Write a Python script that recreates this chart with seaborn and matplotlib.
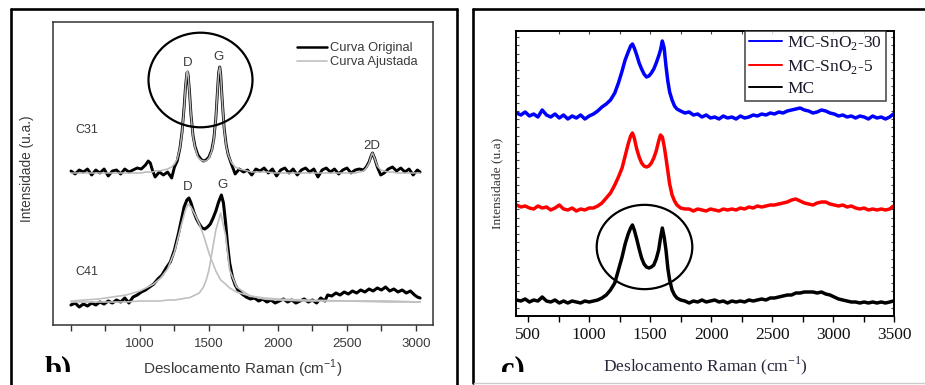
import numpy as np
import pandas as pd
import matplotlib
matplotlib.use("Agg")
import matplotlib.pyplot as plt
import seaborn as sns
from matplotlib.patches import Ellipse
from matplotlib.lines import Line2D
from matplotlib.ticker import MultipleLocator
from matplotlib.transforms import Bbox, TransformedBbox

# ---------------- data: panel b) ----------------
c31_x = [500, 530, 560, 590, 620, 650, 680, 710, 740, 770,
         800, 830, 860, 890, 920, 950, 980, 1010, 1040, 1060,
         1075, 1090, 1110, 1140, 1170, 1200, 1230, 1250, 1270, 1290,
         1305, 1320, 1330, 1340, 1345, 1350, 1360, 1370, 1385, 1400,
         1420, 1440, 1460, 1480, 1500, 1520, 1535, 1550, 1560, 1570,
         1578, 1585, 1595, 1610, 1625, 1640, 1660, 1690, 1720, 1750,
         1780, 1810, 1840, 1870, 1900, 1930, 1960, 1990, 2020, 2050,
         2080, 2110, 2140, 2170, 2200, 2230, 2260, 2290, 2320, 2350,
         2380, 2410, 2440, 2470, 2500, 2530, 2560, 2590, 2620, 2640,
         2660, 2675, 2685, 2700, 2720, 2745, 2770, 2800, 2830, 2860,
         2890, 2920, 2950, 2980, 3010, 3030]
c31_y = [154, 151, 155, 153, 156, 150, 155, 152, 156, 149,
         154, 155, 151, 156, 153, 155, 157, 156, 160, 164,
         162, 155, 148, 153, 150, 153, 147, 158, 164, 177,
         193, 218, 238, 252, 253, 249, 231, 210, 189, 178,
         170, 166, 164, 165, 168, 175, 186, 207, 230, 252,
         258, 251, 227, 197, 180, 170, 162, 151, 156, 153,
         155, 150, 156, 154, 157, 152, 156, 149, 155, 157,
         152, 156, 150, 155, 157, 153, 156, 148, 155, 157,
         153, 156, 151, 155, 157, 152, 155, 156, 155, 158,
         163, 169, 172, 167, 158, 150, 152, 156, 158, 154,
         157, 153, 156, 150, 155, 153]
c31_fit = [152, 152, 152, 152, 152, 152, 152, 152, 152, 152,
           152, 152, 152, 152, 152, 152, 152, 152, 153, 153,
           153, 153, 154, 154, 155, 156, 158, 161, 166, 177,
           192, 217, 238, 253, 254, 249, 230, 210, 188, 177,
           168, 165, 164, 164, 167, 174, 185, 207, 230, 252,
           258, 250, 227, 196, 179, 170, 163, 158, 156, 155,
           154, 153, 153, 153, 153, 153, 152, 152, 152, 152,
           152, 152, 152, 152, 152, 152, 152, 152, 152, 152,
           152, 152, 152, 152, 152, 152, 152, 153, 154, 157,
           162, 169, 172, 167, 159, 155, 154, 153, 153, 152,
           152, 152, 152, 152, 152, 152]

c41_x = [500, 530, 560, 590, 620, 650, 680, 710, 740, 770,
         800, 830, 860, 890, 920, 950, 980, 1010, 1040, 1070,
         1100, 1130, 1160, 1190, 1220, 1250, 1280, 1300, 1320, 1340,
         1355, 1370, 1390, 1410, 1430, 1450, 1470, 1490, 1510, 1530,
         1550, 1570, 1590, 1605, 1620, 1635, 1650, 1670, 1690, 1710,
         1740, 1770, 1800, 1830, 1860, 1890, 1920, 1950, 1980, 2010,
         2040, 2070, 2100, 2130, 2160, 2190, 2220, 2250, 2280, 2310,
         2340, 2360, 2390, 2420, 2450, 2480, 2510, 2540, 2570, 2600,
         2630, 2660, 2690, 2720, 2750, 2780, 2810, 2840, 2870, 2900,
         2930, 2960, 2990, 3010, 3030]
c41_y = [20, 22, 18, 21, 19, 22, 20, 23, 21, 24,
         22, 25, 23, 27, 22, 28, 30, 33, 35, 38,
         41, 46, 50, 57, 63, 75, 92, 105, 118, 125,
         127, 122, 113, 106, 101, 97, 96, 98, 101, 107,
         114, 123, 130, 122, 103, 80, 62, 48, 40, 35,
         31, 28, 26, 27, 24, 26, 23, 25, 22, 24,
         26, 23, 25, 22, 24, 26, 23, 25, 22, 27,
         24, 30, 29, 32, 30, 33, 31, 34, 32, 35,
         33, 36, 34, 37, 35, 38, 34, 36, 33, 35,
         32, 34, 30, 28, 27]

fit_x = [500, 600, 700, 800, 900, 1000, 1100, 1150, 1200, 1250,
         1300, 1330, 1350, 1370, 1400, 1430, 1460, 1480, 1500, 1516,
         1550, 1585, 1620, 1650, 1700, 1800, 1900, 2000, 2200, 2500,
         2800, 3030]
fit_d = [24, 25, 26, 28, 30, 34, 41, 47, 56, 73,
         100, 115, 121, 118, 110, 101, 90, 81, 72, 66,
         54, 45, 41, 37, 33, 29, 27, 26, 25, 24,
         24, 23]
fit_g = [23, 23, 23, 23, 23, 24, 24, 24, 25, 25,
         26, 27, 27, 28, 30, 32, 38, 45, 55, 68,
         95, 112, 90, 55, 38, 29, 26, 25, 24, 24,
         23, 23]

b_ticks = [500, 1000, 1500, 2000, 2500, 3000]
b_ticklabels = ["", "1000", "1500", "2000", "2500", "3000"]
b_legend = ["Curva Original", "Curva Ajustada"]
b_peaks = [("D", 1343, 262), ("G", 1571, 268), ("2D", 2680, 179),
           ("D", 1343, 138), ("G", 1600, 140)]
b_samples = [("C31", 612, 195), ("C41", 612, 53)]

# ---------------- data: panel c) ----------------
c_x = [405, 440, 475, 510, 545, 580, 615, 650, 685, 720,
       755, 790, 825, 860, 895, 930, 965, 1000, 1035, 1070,
       1105, 1140, 1175, 1210, 1240, 1270, 1295, 1320, 1340, 1355,
       1370, 1390, 1410, 1430, 1450, 1470, 1490, 1510, 1530, 1550,
       1570, 1585, 1600, 1615, 1630, 1645, 1660, 1680, 1700, 1720,
       1750, 1785, 1820, 1855, 1890, 1925, 1960, 1995, 2030, 2065,
       2100, 2135, 2170, 2205, 2240, 2275, 2310, 2345, 2380, 2415,
       2450, 2485, 2520, 2555, 2590, 2625, 2660, 2695, 2730, 2765,
       2800, 2835, 2870, 2905, 2940, 2975, 3010, 3045, 3080, 3115,
       3150, 3185, 3220, 3255, 3290, 3325, 3360, 3395, 3430, 3465,
       3495]
sno2_30 = [203, 201, 204, 200, 202, 199, 206, 201, 199, 202,
           198, 201, 197, 200, 198, 201, 197, 200, 202, 205,
           209, 212, 216, 223, 233, 245, 256, 264, 270, 272,
           268, 261, 253, 247, 242, 239, 240, 243, 247, 253,
           260, 266, 275, 268, 250, 235, 224, 216, 210, 207,
           205, 203, 204, 201, 202, 199, 201, 198, 199, 197,
           200, 198, 199, 197, 200, 198, 199, 201, 200, 202,
           201, 203, 202, 204, 203, 205, 206, 207, 208, 206,
           205, 203, 204, 206, 205, 203, 202, 200, 201, 199,
           200, 198, 200, 199, 197, 200, 198, 199, 197, 199,
           202]
sno2_5 = [111, 109, 110, 108, 107, 110, 108, 109, 106, 108,
          111, 107, 106, 108, 105, 107, 106, 108, 108, 110,
          113, 118, 123, 131, 139, 148, 160, 172, 180, 183,
          178, 167, 159, 153, 150, 149, 150, 153, 158, 165,
          175, 181, 179, 170, 158, 145, 132, 121, 115, 111,
          108, 107, 107, 105, 107, 106, 105, 107, 106, 105,
          107, 106, 107, 106, 108, 107, 109, 108, 110, 109,
          110, 111, 111, 112, 113, 114, 116, 117, 115, 113,
          112, 111, 113, 114, 114, 112, 111, 110, 111, 109,
          110, 108, 107, 108, 106, 107, 106, 107, 106, 107,
          110]
mc = [16, 15, 17, 14, 16, 15, 19, 15, 14, 16,
      13, 15, 13, 15, 14, 13, 15, 14, 15, 16,
      18, 21, 26, 33, 46, 59, 72, 82, 88, 91,
      86, 77, 67, 58, 52, 49, 48, 49, 51, 57,
      66, 78, 88, 79, 66, 48, 36, 26, 21, 18,
      16, 15, 13, 15, 14, 16, 14, 15, 16, 14,
      15, 13, 15, 14, 15, 14, 16, 15, 16, 17,
      16, 18, 18, 19, 20, 21, 21, 23, 23, 24,
      24, 24, 23, 24, 22, 21, 19, 17, 16, 15,
      14, 14, 13, 14, 13, 14, 13, 14, 13, 14,
      15]
c_series = ["MC-SnO$_\\mathregular{2}$-30", "MC-SnO$_\\mathregular{2}$-5", "MC"]
c_colors = ["#0000ff", "#ff0000", "#000000"]
c_ticks = [500, 1000, 1500, 2000, 2500, 3000, 3500]

# ---------------- figure ----------------
sns.set_theme(style="white")
plt.rcParams["font.family"] = ["Liberation Sans", "DejaVu Sans"]
plt.rcParams["mathtext.fontset"] = "custom"
plt.rcParams["mathtext.rm"] = "Liberation Serif"

W, H = 925, 385
fig = plt.figure(figsize=(W / 100, H / 100), dpi=100)
fig.patch.set_facecolor("white")


def fx(px):
    return px / W


def fy(py):
    return 1 - py / H


def rect(x0, y0, x1, y1):
    return [fx(x0), fy(y1), fx(x1) - fx(x0), fy(y0) - fy(y1)]


# ===== panel b =====
axb = fig.add_axes(rect(53.3, 21.7, 432.5, 325))
grey_txt = "#3a3a3a"
sns.lineplot(x=c31_x, y=c31_y, ax=axb, color="black", lw=2.1, sort=False, estimator=None)
sns.lineplot(x=c31_x, y=c31_fit, ax=axb, color="#b8b8b8", lw=1.1, sort=False, estimator=None)
sns.lineplot(x=c41_x, y=c41_y, ax=axb, color="black", lw=2.2, sort=False, estimator=None)
sns.lineplot(x=fit_x, y=fit_d, ax=axb, color="#c0c0c0", lw=1.2, sort=False, estimator=None)
sns.lineplot(x=fit_x, y=fit_g, ax=axb, color="#c0c0c0", lw=1.2, sort=False, estimator=None)
axb.set_xlim(372, 3120)
axb.set_ylim(0, 303.3)
axb.set_xticks(b_ticks)
axb.set_xticklabels(b_ticklabels)
axb.xaxis.set_minor_locator(MultipleLocator(250))
axb.set_yticks([])
axb.tick_params(axis="x", which="both", bottom=True, direction="out", length=4.5,
                width=1, color="#333333", labelsize=9.5, labelcolor=grey_txt, pad=5)
for s in axb.spines.values():
    s.set_color("#333333")
    s.set_linewidth(1.1)
axb.set_xlabel("")
axb.set_ylabel("")
for lab, xx, yy in b_peaks:
    axb.text(xx, yy, lab, ha="center", va="center", fontsize=9.5, color=grey_txt)
for lab, xx, yy in b_samples:
    axb.text(xx, yy, lab, ha="center", va="center", fontsize=9, color=grey_txt)
hb = [Line2D([], [], color="black", lw=1.8), Line2D([], [], color="#c0c0c0", lw=1.2)]
leg = axb.legend(hb, b_legend, loc="upper left", bbox_to_anchor=(fx(291), fy(36)),
                 bbox_transform=fig.transFigure, frameon=False, fontsize=9.3,
                 handlelength=2.3, handletextpad=0.2, labelspacing=0.15, borderpad=0)
for t in leg.get_texts():
    t.set_color(grey_txt)
fig.text(fx(243), fy(369), "Deslocamento Raman (cm$^{\\mathregular{-1}}$)", ha="center",
         va="center", fontsize=11, color=grey_txt)
fig.text(fx(27), fy(169), "Intensidade (u.a.)", ha="center", va="center",
         rotation=90, fontsize=9.8, color=grey_txt)

# ===== panel c =====
axc = fig.add_axes(rect(516, 31, 894, 316))
for ys, col in zip([sno2_30, sno2_5, mc], c_colors):
    sns.lineplot(x=c_x, y=ys, ax=axc, color=col, lw=2.5, sort=False, estimator=None)
axc.set_xlim(400, 3500)
axc.set_ylim(0, 285)
axc.set_xticks(c_ticks)
axc.set_xticklabels([str(t) for t in c_ticks], fontfamily="Liberation Serif")
axc.xaxis.set_minor_locator(MultipleLocator(250))
axc.yaxis.set_major_locator(MultipleLocator(8.2))
axc.tick_params(axis="x", which="both", bottom=True, direction="out", length=4.5,
                width=1, color="black", labelsize=12.5, labelcolor="#111111", pad=3.5)
axc.tick_params(axis="y", which="both", left=True, right=True, direction="in",
                length=2.2, width=0.8, color="#444444", labelleft=False)
sec = axc.secondary_xaxis("top")
sec.set_xticks([750, 1000, 1250, 1500, 1750, 2000, 2250, 2500, 2750, 3000, 3250])
sec.tick_params(axis="x", direction="in", length=2.2, width=0.8, color="#444444",
                labeltop=False)
sec.spines["top"].set_visible(False)
for s in axc.spines.values():
    s.set_color("black")
    s.set_linewidth(1.4)
axc.set_xlabel("")
axc.set_ylabel("")
hc = [Line2D([], [], color=c, lw=1.4) for c in c_colors]
legc = axc.legend(hc, c_series, loc="upper right", bbox_to_anchor=(fx(885.5), fy(31)),
                  bbox_transform=fig.transFigure, frameon=True, fancybox=False,
                  prop={"family": "Liberation Serif", "size": 12.5},
                  handlelength=1.9, handletextpad=0.3, labelspacing=0.3,
                  borderpad=0.2, borderaxespad=0)
legc.get_frame().set_edgecolor("#222222")
legc.get_frame().set_linewidth(1.2)
for t in legc.get_texts():
    t.set_color("#1a1a2a")
fig.text(fx(705), fy(366), "Deslocamento Raman (cm$^{\\mathregular{-1}}$)", ha="center",
         va="center", fontsize=12.5, family="Liberation Serif", color="#26263a")
fig.text(fx(497), fy(183), "Intensidade (u.a)", ha="center", va="center",
         rotation=90, fontsize=9.7, family="Liberation Serif", color="#3a3030")

# circles
fig.add_artist(Ellipse((fx(200.5), fy(80)), 104 / W, 94.6 / H, transform=fig.transFigure,
                       fill=False, ec="black", lw=1.6))
fig.add_artist(Ellipse((fx(644.5), fy(247)), 95.6 / W, 84.3 / H, transform=fig.transFigure,
                       fill=False, ec="black", lw=1.6))

# panel letters (clipped at the bottom as in the source)
for txt, x0 in [("b)", 45), ("c)", 501)]:
    t = fig.text(fx(x0), fy(377), txt, ha="left", va="baseline", fontsize=22,
                 fontweight="bold", family="Liberation Serif", color="black")
    t.set_clip_box(TransformedBbox(Bbox([[fx(x0 - 5), fy(372)], [fx(x0 + 40), fy(340)]]),
                                   fig.transFigure))
    t.set_clip_on(True)

# outer frames
lw_frame = 1.9
fig.add_artist(Line2D([fx(11), fx(11)], [fy(8.5), fy(400)], transform=fig.transFigure, color="black", lw=lw_frame))
fig.add_artist(Line2D([fx(11), fx(456.5)], [fy(8.5), fy(8.5)], transform=fig.transFigure, color="black", lw=lw_frame))
fig.add_artist(Line2D([fx(456.5), fx(456.5)], [fy(8.5), fy(400)], transform=fig.transFigure, color="black", lw=lw_frame))
fig.add_artist(Line2D([fx(473), fx(473)], [fy(8.5), fy(383)], transform=fig.transFigure, color="black", lw=lw_frame))
fig.add_artist(Line2D([fx(473), fx(930)], [fy(8.5), fy(8.5)], transform=fig.transFigure, color="black", lw=lw_frame))
fig.add_artist(Line2D([fx(474), fx(930)], [fy(383), fy(383)], transform=fig.transFigure, color="#cccccc", lw=1.0))

fig.savefig("out.png", dpi=100)
